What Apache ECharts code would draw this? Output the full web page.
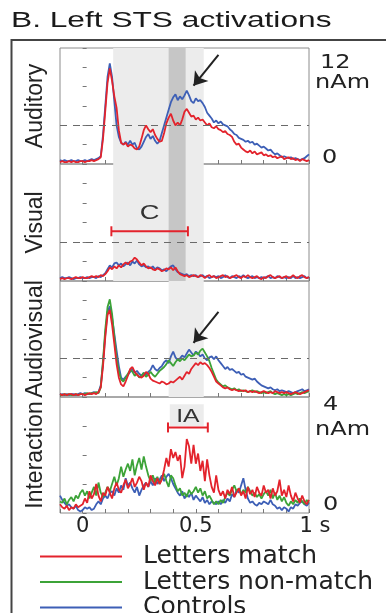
<!DOCTYPE html>
<html>
<head>
<meta charset="utf-8">
<style>
  html, body { margin: 0; padding: 0; background: #fff; }
  #chart { width: 386px; height: 613px; }
</style>
<script src="https://cdn.jsdelivr.net/npm/echarts@6/dist/echarts.min.js"></script>
</head>
<body>
<div id="chart"></div>
<script>
// sample times, -0.1 .. 1.0 s in 10 ms steps
const times = Array.from({ length: 111 }, (_, i) => (i - 10) / 100);

const panelNames = ['Auditory', 'Visual', 'Audiovisual', 'Interaction'];
const panelMax = [12, 12, 12, 4];
const panelStep = [2, 2, 2, 1];
const legendNames = ['Letters match', 'Letters non-match', 'Controls'];
const xTickValues = [0, 0.5, 1];
const xTickLabels = ['0', '0.5', '1 s'];
const topScaleLabels = ['12', 'nAm', '0'];
const bottomScaleLabels = ['4', 'nAm', '0'];

// Auditory (nAm)
const audBlue = [
  0.4,0.3,0.4,0.3,0.3,0.4,0.3,0.3,0.4,0.3,
  0.3,0.4,0.3,0.4,0.5,0.4,0.5,0.6,0.8,3.0,
  6.0,9.0,10.4,9.0,6.5,4.0,2.8,2.2,2.0,2.3,
  2.0,2.4,2.0,2.2,1.6,1.5,1.8,2.3,2.8,3.1,
  2.6,2.9,2.4,2.1,2.4,3.2,4.0,4.8,5.6,6.4,
  6.9,7.2,6.6,7.0,6.7,7.1,7.6,7.1,6.5,6.3,
  6.8,6.5,6.6,6.3,5.9,5.3,5.0,4.7,4.3,4.5,
  4.2,4.4,4.1,4.0,3.9,3.6,3.4,3.1,3.0,2.7,
  2.6,2.5,2.3,2.4,2.2,2.3,2.0,2.1,1.9,1.7,
  1.8,1.6,1.4,1.5,1.2,1.0,1.1,0.9,0.7,0.8,
  0.7,0.6,0.7,0.5,0.6,0.5,0.4,0.5,0.6,0.8,1.0
];
const audRed = [
  0.2,0.3,0.2,0.2,0.3,0.2,0.3,0.2,0.2,0.3,
  0.3,0.2,0.3,0.3,0.4,0.3,0.4,0.5,0.7,2.6,
  5.5,8.4,9.9,8.6,7.0,5.8,3.5,2.2,2.0,2.2,
  1.8,2.0,1.9,1.6,1.5,1.8,2.6,3.5,4.0,3.6,
  3.3,3.6,3.0,2.6,2.3,2.4,3.2,4.2,4.8,5.2,
  4.5,4.0,4.3,4.0,4.6,5.4,5.7,5.3,4.9,5.0,
  4.6,4.8,4.5,4.6,4.3,4.0,4.2,3.8,3.7,3.9,
  3.6,3.5,3.3,3.4,3.1,3.0,2.8,2.3,2.0,2.1,
  1.7,1.5,1.3,1.2,1.4,1.1,1.3,1.0,1.1,1.2,
  0.9,1.0,0.8,0.9,0.7,0.8,0.6,0.7,0.8,0.5,
  0.6,0.7,0.5,0.6,0.4,0.5,0.3,0.5,0.4,0.3,0.4
];

// Visual (nAm)
const visBlue = [
  0.3,0.4,0.3,0.3,0.4,0.3,0.2,0.3,0.3,0.4,
  0.3,0.3,0.4,0.3,0.4,0.4,0.3,0.5,0.4,0.6,
  0.8,1.2,1.6,1.4,1.8,1.9,1.6,1.8,1.5,1.7,
  1.9,1.6,2.0,1.8,2.1,1.7,1.5,1.6,1.4,1.5,
  1.3,1.5,1.2,1.4,1.3,1.1,1.2,1.0,1.3,1.5,
  1.6,1.2,0.9,0.8,0.7,0.6,0.7,0.5,0.6,0.5,
  0.6,0.4,0.5,0.6,0.4,0.5,0.3,0.4,0.5,0.4,
  0.5,0.3,0.4,0.6,0.4,0.3,0.5,0.4,0.3,0.5,
  0.4,0.6,0.4,0.3,0.4,0.5,0.3,0.4,0.3,0.4,
  0.3,0.4,0.5,0.3,0.4,0.3,0.5,0.4,0.3,0.4,
  0.3,0.4,0.3,0.5,0.3,0.4,0.3,0.4,0.5,0.3,0.4
];
const visRed = [
  0.2,0.3,0.2,0.3,0.3,0.2,0.3,0.4,0.3,0.3,
  0.4,0.3,0.3,0.4,0.5,0.4,0.5,0.4,0.6,0.5,
  0.7,1.0,1.4,1.2,1.5,1.3,1.6,1.4,1.7,1.9,
  1.7,2.0,2.1,2.4,2.2,1.9,1.6,1.8,1.5,1.3,
  1.4,1.2,1.1,1.3,1.2,1.0,1.1,1.3,1.2,1.4,
  1.1,1.4,1.0,0.7,0.6,0.5,0.6,0.4,0.5,0.6,
  0.5,0.4,0.6,0.5,0.3,0.5,0.6,0.4,0.5,0.3,
  0.4,0.5,0.6,0.4,0.5,0.3,0.4,0.5,0.6,0.4,
  0.3,0.5,0.4,0.6,0.4,0.3,0.4,0.5,0.3,0.2,
  0.4,0.3,0.5,0.6,0.4,0.3,0.4,0.5,0.3,0.4,
  0.5,0.3,0.4,0.6,0.4,0.3,0.5,0.6,0.4,0.3,0.4
];

// Audiovisual (nAm)
const avBlue = [
  0.2,0.3,0.2,0.3,0.2,0.3,0.3,0.2,0.3,0.4,
  0.3,0.4,0.3,0.3,0.4,0.5,0.4,0.5,1.2,3.5,
  6.5,8.8,9.4,8.2,6.5,4.8,3.2,2.0,1.8,2.1,
  2.3,2.6,2.9,2.5,2.7,2.4,2.2,2.5,2.3,2.6,
  2.8,3.3,2.9,2.7,3.0,3.2,3.6,3.8,3.5,4.2,
  4.7,4.1,3.8,4.0,4.3,4.1,4.5,4.9,4.6,4.3,
  4.7,4.5,4.2,4.4,4.0,3.8,4.1,4.2,3.9,4.2,
  3.8,3.5,3.2,2.9,3.1,2.8,2.9,2.7,2.5,2.6,
  2.3,2.4,2.1,2.0,1.9,1.8,1.9,1.6,1.4,1.2,
  1.1,1.0,0.9,1.0,0.8,0.7,0.8,0.6,0.7,0.6,
  0.5,0.6,0.5,0.4,0.5,0.6,0.7,0.8,0.6,0.7,0.8
];
const avGreen = [
  0.2,0.2,0.3,0.2,0.3,0.2,0.2,0.3,0.2,0.3,
  0.3,0.3,0.4,0.3,0.4,0.4,0.5,0.4,1.0,3.8,
  7.0,9.3,10.1,8.6,6.2,4.0,2.6,1.8,1.6,2.0,
  2.4,2.8,2.6,2.2,2.4,2.0,2.2,2.5,2.1,2.3,
  2.6,2.3,2.1,2.4,2.7,2.9,3.1,3.4,3.8,3.5,
  3.2,3.6,3.9,3.7,4.0,3.8,4.1,4.4,4.2,4.3,
  4.6,4.4,4.8,5.0,4.6,4.2,3.7,3.0,2.4,1.8,
  1.5,1.3,1.1,1.2,1.0,0.9,0.8,0.9,0.7,0.8,
  0.6,0.7,0.6,0.5,0.6,0.7,0.5,0.6,0.5,0.4,
  0.5,0.4,0.5,0.6,0.4,0.3,0.4,0.3,0.2,0.3,
  0.2,0.3,0.2,0.3,0.4,0.3,0.4,0.5,0.4,0.5,0.6
];
const avRed = [
  0.3,0.2,0.3,0.2,0.3,0.3,0.2,0.3,0.2,0.3,
  0.3,0.2,0.3,0.4,0.3,0.4,0.3,0.5,1.0,3.2,
  6.2,8.5,9.0,7.5,5.5,3.4,2.0,1.3,1.1,1.6,
  2.2,2.9,3.1,2.6,2.3,2.1,2.0,2.2,2.6,2.4,
  1.9,1.7,1.6,1.5,1.4,1.6,1.5,1.3,1.4,1.6,
  1.5,1.7,1.9,2.1,1.8,2.2,2.6,2.4,2.9,3.2,
  3.5,3.3,3.6,3.4,3.5,3.3,3.0,2.6,2.1,1.6,
  1.4,1.2,1.0,0.9,1.0,0.8,0.7,0.8,0.7,0.6,
  0.7,0.6,0.7,0.5,0.6,0.5,0.6,0.5,0.4,0.5,
  0.6,0.5,0.4,0.5,0.4,0.6,0.5,0.4,0.5,0.4,
  0.5,0.4,0.3,0.4,0.5,0.4,0.3,0.4,0.5,0.6,0.7
];

// Interaction (nAm)
const iaBlue = [
  0.6,0.45,0.35,0.25,0.3,0.2,0.15,0.25,0.1,0.05,
  0.1,0.2,0.15,0.2,0.1,0.15,0.3,0.4,0.3,0.5,
  0.6,0.5,0.7,0.75,0.6,0.85,0.7,0.95,0.8,1.2,
  0.95,1.05,0.85,0.7,0.9,0.6,0.8,0.95,1.05,0.9,
  1.1,0.95,1.2,1.0,1.15,1.3,1.1,1.25,1.35,1.2,
  1.0,0.85,0.7,0.6,0.75,0.5,0.65,0.55,0.7,0.45,
  0.6,0.5,0.4,0.55,0.35,0.45,0.3,0.4,0.35,0.3,
  0.4,0.3,0.45,0.35,0.5,0.4,0.65,0.55,0.8,0.7,
  0.95,1.2,0.8,0.5,0.35,0.4,0.3,0.25,0.35,0.3,
  0.4,0.35,0.3,0.45,0.3,0.25,0.15,0.2,0.1,0.2,
  0.15,0.05,0.2,0.15,0.3,0.25,0.35,0.4,0.3,0.25,0.35
];
const iaGreen = [
  0.4,0.35,0.5,0.3,0.45,0.55,0.4,0.6,0.5,0.7,
  0.8,0.6,0.75,0.5,0.7,0.9,0.6,1.05,0.7,0.55,
  0.7,0.9,0.75,1.0,1.25,0.95,1.2,1.6,1.25,1.5,
  1.7,1.45,1.85,1.3,1.65,1.9,1.5,1.95,1.6,1.3,
  1.1,1.3,1.05,1.25,1.0,1.2,1.35,1.1,0.9,1.3,
  1.2,0.95,0.75,0.85,0.6,0.7,0.55,0.8,0.65,0.75,
  0.9,0.7,0.85,0.6,0.75,0.5,0.6,0.45,0.3,0.4,
  0.3,0.45,0.35,0.55,0.7,0.6,0.8,0.95,0.75,0.85,
  0.65,0.8,0.7,0.9,0.75,0.6,0.7,0.55,0.65,0.5,
  0.65,0.75,0.6,0.8,0.5,0.7,0.45,0.6,0.4,0.55,
  0.35,0.25,0.4,0.3,0.45,0.35,0.5,0.4,0.3,0.45,0.35
];
const iaRed = [
  0.3,0.2,0.15,0.25,0.1,0.2,0.15,0.3,0.2,0.25,
  0.3,0.5,0.35,0.75,0.5,0.65,1.0,0.6,0.4,0.7,
  0.6,0.9,0.7,0.5,0.85,1.05,0.8,0.7,0.95,1.15,
  0.85,1.0,1.2,0.9,1.05,1.25,1.1,0.8,1.05,0.9,
  1.3,1.1,0.95,1.2,1.0,1.15,1.5,1.9,1.6,2.2,
  1.9,2.1,1.8,2.0,1.2,1.6,2.55,2.3,1.7,2.35,
  1.7,2.05,1.45,1.8,1.1,1.85,1.3,0.9,0.7,1.3,
  0.8,0.6,0.75,0.5,0.8,0.65,0.9,0.55,0.7,0.85,
  0.6,0.75,0.5,0.9,0.65,0.8,0.55,0.9,0.7,0.6,
  0.95,0.7,0.8,0.5,0.85,0.6,0.75,1.15,0.6,0.8,
  0.55,0.95,0.6,0.4,0.7,0.5,0.35,0.6,0.4,0.3,0.45
];

// significance bars: [start s, end s, level nAm]
const visualBar = [0.127, 0.465, 5.1];
const interactionBar = [0.377, 0.553, 2.95];

const RED = '#e3232c';
const GREEN = '#3ca338';
const BLUE = '#3d5fb6';
const colorOf = { 'Letters match': RED, 'Letters non-match': GREEN, 'Controls': BLUE };

const panelTops = [48, 164, 281, 397];
const panelHeights = [116, 117, 116, 116];

const pairs = vals => times.map((t, i) => [t, vals[i]]);

const lightBand = (a, b) => [{ xAxis: a, itemStyle: { color: '#ececec' } }, { xAxis: b }];
const darkBand = (a, b) => [{ xAxis: a, itemStyle: { color: '#c6c6c6' } }, { xAxis: b }];

const dashed = {
  silent: true,
  symbol: 'none',
  label: { show: false },
  lineStyle: { color: '#6a6a6a', type: [7, 6], width: 1.2 },
  data: [{ yAxis: 4 }]
};
const arrow = (from, to) => ({
  silent: true,
  symbol: ['none', 'arrow'],
  symbolSize: 13,
  label: { show: false },
  lineStyle: { color: '#222', type: 'solid', width: 2 },
  data: [[{ coord: from }, { coord: to }]]
});

function trace(panel, name, vals, extra) {
  return Object.assign({
    type: 'line',
    name,
    xAxisIndex: panel,
    yAxisIndex: panel,
    data: pairs(vals),
    symbol: 'none',
    showSymbol: false,
    lineStyle: { color: colorOf[name], width: 1.8 },
    itemStyle: { color: colorOf[name] },
    emphasis: { disabled: true }
  }, extra || {});
}

function bracket(panel, name, bar, label, fontSize, lift) {
  return {
    type: 'custom',
    name,
    xAxisIndex: panel,
    yAxisIndex: panel,
    silent: true,
    z: 6,
    data: [bar],
    renderItem: (params, api) => {
      const a = api.coord([api.value(0), api.value(2)]);
      const b = api.coord([api.value(1), api.value(2)]);
      const st = { stroke: RED, lineWidth: 2 };
      return {
        type: 'group',
        children: [
          { type: 'line', shape: { x1: a[0], y1: a[1], x2: b[0], y2: b[1] }, style: st },
          { type: 'line', shape: { x1: a[0], y1: a[1] - 5, x2: a[0], y2: a[1] + 5 }, style: st },
          { type: 'line', shape: { x1: b[0], y1: b[1] - 5, x2: b[0], y2: b[1] + 5 }, style: st },
          {
            type: 'text',
            x: (a[0] + b[0]) / 2,
            y: a[1] - lift,
            scaleX: 1.3,
            style: {
              text: label, x: 0, y: 0, align: 'center', verticalAlign: 'middle',
              fontFamily: 'Liberation Sans', fontSize, fill: '#333'
            }
          }
        ]
      };
    }
  };
}

const grids = panelTops.map((top, i) => ({
  left: 60, width: 249, top, height: panelHeights[i],
  show: true, borderColor: '#8c8c8c', borderWidth: 1
}));

const xAxes = panelTops.map((_, i) => ({
  type: 'value', gridIndex: i, min: -0.1, max: 1, interval: 0.1,
  axisLine: { show: false },
  axisTick: { inside: true, length: 4, lineStyle: { color: '#777' } },
  splitLine: { show: false },
  axisLabel: i === 3 ? {
    show: true,
    margin: 3,
    showMinLabel: true,
    showMaxLabel: true,
    fontFamily: 'DejaVu Sans', fontSize: 21, color: '#222',
    formatter: v => {
      const k = xTickValues.findIndex(t => Math.abs(t - v) < 1e-6);
      if (k < 0) return '';
      return k === 2 ? '{s|' + xTickLabels[k] + '}' : xTickLabels[k];
    },
    rich: { s: { fontFamily: 'DejaVu Sans', fontSize: 21, color: '#222', padding: [0, 0, 0, 12] } }
  } : { show: false }
}));

const yAxes = panelTops.map((_, i) => ({
  type: 'value', gridIndex: i, min: 0, max: panelMax[i], interval: panelStep[i],
  name: panelNames[i], nameLocation: 'middle', nameRotate: 90, nameGap: 13,
  nameTextStyle: { fontFamily: 'Liberation Sans', fontSize: 23, color: '#222' },
  axisLine: { show: false },
  axisTick: { inside: true, length: 4, lineStyle: { color: '#777' } },
  axisLabel: { show: false },
  splitLine: { show: false }
}));

const series = [
  // Auditory
  trace(0, 'Controls', audBlue, {
    markArea: { silent: true, data: [lightBand(0.135, 0.535), darkBand(0.38, 0.455)] },
    markLine: dashed
  }),
  trace(0, 'Letters match', audRed, { markLine: arrow([0.60, 11.3], [0.49, 8.1]) }),
  // Visual
  trace(1, 'Controls', visBlue, {
    markArea: { silent: true, data: [lightBand(0.135, 0.535), darkBand(0.38, 0.455)] },
    markLine: dashed
  }),
  trace(1, 'Letters match', visRed),
  bracket(1, 'C', visualBar, 'C', 21, 18),
  // Audiovisual
  trace(2, 'Controls', avBlue, {
    markArea: { silent: true, data: [lightBand(0.38, 0.535)] },
    markLine: dashed
  }),
  trace(2, 'Letters non-match', avGreen),
  trace(2, 'Letters match', avRed, { markLine: arrow([0.60, 8.8], [0.49, 5.6]) }),
  // Interaction
  trace(3, 'Controls', iaBlue, {
    markArea: { silent: true, data: [[{ coord: [0.385, 3.0], itemStyle: { color: '#ececec' } }, { coord: [0.535, 3.75] }]] }
  }),
  trace(3, 'Letters non-match', iaGreen),
  trace(3, 'Letters match', iaRed),
  bracket(3, 'IA', interactionBar, 'IA', 19, 11)
];

const sideText = (text, x, y) => ({
  type: 'text', x, y, scaleX: 1.2, silent: true,
  style: { text, x: 0, y: 0, align: 'left', verticalAlign: 'middle', fontFamily: 'DejaVu Sans', fontSize: 20, fill: '#222' }
});

const option = {
  animation: false,
  backgroundColor: '#fff',
  grid: grids,
  xAxis: xAxes,
  yAxis: yAxes,
  legend: {
    data: legendNames,
    orient: 'vertical',
    left: 35,
    top: 539,
    height: 120,
    icon: 'rect',
    itemWidth: 82,
    itemHeight: 2,
    itemGap: 0.5,
    selectedMode: false,
    textStyle: { fontFamily: 'DejaVu Sans', fontSize: 25, lineHeight: 25, color: '#222', padding: [0, 0, 0, 16] }
  },
  graphic: [
    {
      type: 'rect', silent: true, z: -1,
      shape: { x: 11.5, y: 40, width: 420, height: 620 },
      style: { fill: 'none', stroke: '#444', lineWidth: 2 }
    },
    {
      type: 'text', x: 11, y: 21, scaleX: 1.44, silent: true,
      style: { text: 'B. Left STS activations', x: 0, y: 0, verticalAlign: 'middle', fontFamily: 'Liberation Sans', fontSize: 22, fill: '#1a1a1a' }
    },
    sideText(topScaleLabels[0], 320, 62.5),
    sideText(topScaleLabels[1], 315, 83),
    sideText(topScaleLabels[2], 322, 157.5),
    sideText(bottomScaleLabels[0], 323, 404.5),
    sideText(bottomScaleLabels[1], 315, 430),
    sideText(bottomScaleLabels[2], 323, 504.5)
  ],
  series
};

const chart = echarts.init(document.getElementById('chart'), null, { renderer: 'canvas' });
chart.setOption(option);
</script>
</body>
</html>
